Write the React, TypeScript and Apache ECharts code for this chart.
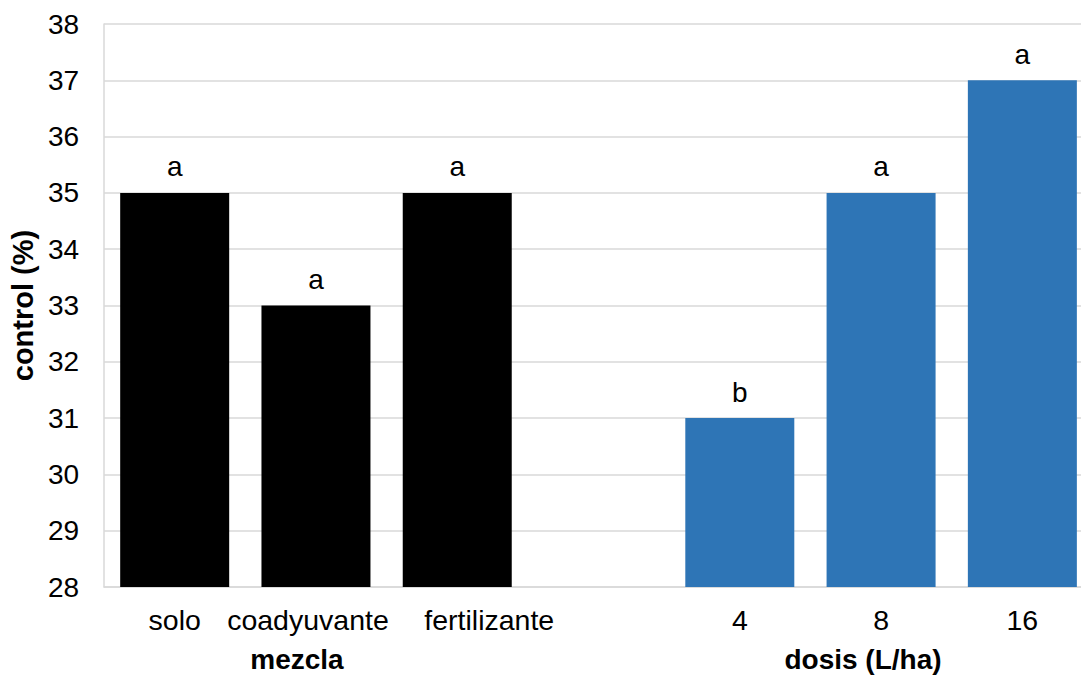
import React, { useEffect, useRef } from "react";
import * as echarts from "echarts";

const categories = ["solo", "coadyuvante", "fertilizante", "", "4", "8", "16"];
const labelShift = [0, -8, 32, 0, 0, 0, 0];
const values: (number | null)[] = [35, 33, 35, null, 31, 35, 37];
const letters = ["a", "a", "a", "", "b", "a", "a"];
const groupOf = ["mezcla", "mezcla", "mezcla", "", "dosis", "dosis", "dosis"];
const yTicks = { min: 28, max: 38, interval: 1 };
const groupTitles = ["mezcla", "dosis (L/ha)"];

const colorFor: Record<string, string> = { mezcla: "#000000", dosis: "#2E75B6" };
const FONT = "'Liberation Sans', Arial, sans-serif";

export default function App() {
  const ref = useRef<HTMLDivElement>(null);
  useEffect(() => {
    if (!ref.current) return;
    document.documentElement.style.overflow = "hidden";
    const chart = echarts.init(ref.current, undefined, { renderer: "svg" });
    const data = values.map((v, i) => ({
      value: v,
      itemStyle: { color: colorFor[groupOf[i]] || "#000" },
    }));
    const xData = categories.map((c, i) => {
      const s = labelShift[i];
      return {
        value: c,
        textStyle: { padding: s > 0 ? [0, 0, 0, 2 * s] : [0, -2 * s, 0, 0] },
      };
    });
    chart.setOption({
      animation: false,
      textStyle: { fontFamily: FONT },
      grid: { left: 102, right: 0, top: 24, bottom: 88, containLabel: false },
      xAxis: {
        type: "category",
        data: xData,
        axisTick: { show: false },
        axisLine: { lineStyle: { color: "#d9d9d9", width: 1.5 } },
        axisLabel: { fontSize: 28.5, color: "#000", margin: 18, fontFamily: FONT, interval: 0 },
      },
      yAxis: {
        type: "value",
        min: yTicks.min,
        max: yTicks.max,
        interval: yTicks.interval,
        name: "control (%)",
        nameLocation: "middle",
        nameRotate: 90,
        nameGap: 62,
        nameTextStyle: { fontSize: 29, fontWeight: "bold", color: "#000", fontFamily: FONT },
        axisLine: { show: true, lineStyle: { color: "#d9d9d9", width: 1.5 } },
        axisTick: { show: false },
        splitLine: { lineStyle: { color: "#d9d9d9", width: 1.5 } },
        axisLabel: { fontSize: 28, color: "#000", margin: 25, fontFamily: FONT },
      },
      graphic: [
        {
          type: "text",
          x: 297,
          y: 659,
          style: {
            text: groupTitles[0],
            fill: "#000",
            font: `bold 28px ${FONT}`,
            textAlign: "center",
            textVerticalAlign: "middle",
          },
        },
        {
          type: "text",
          x: 863,
          y: 659,
          style: {
            text: groupTitles[1],
            fill: "#000",
            font: `bold 28px ${FONT}`,
            textAlign: "center",
            textVerticalAlign: "middle",
          },
        },
      ],
      series: [
        {
          type: "bar",
          data,
          barWidth: 109,
          label: {
            show: true,
            position: "top",
            distance: 12,
            fontSize: 28,
            color: "#000",
            fontFamily: FONT,
            formatter: (p: any) => letters[p.dataIndex],
          },
        },
      ],
    });
    return () => chart.dispose();
  }, []);
  return (
    <div
      ref={ref}
      style={{ position: "fixed", left: 0, top: 0, width: 1093, height: 675, background: "#fff" }}
    />
  );
}
